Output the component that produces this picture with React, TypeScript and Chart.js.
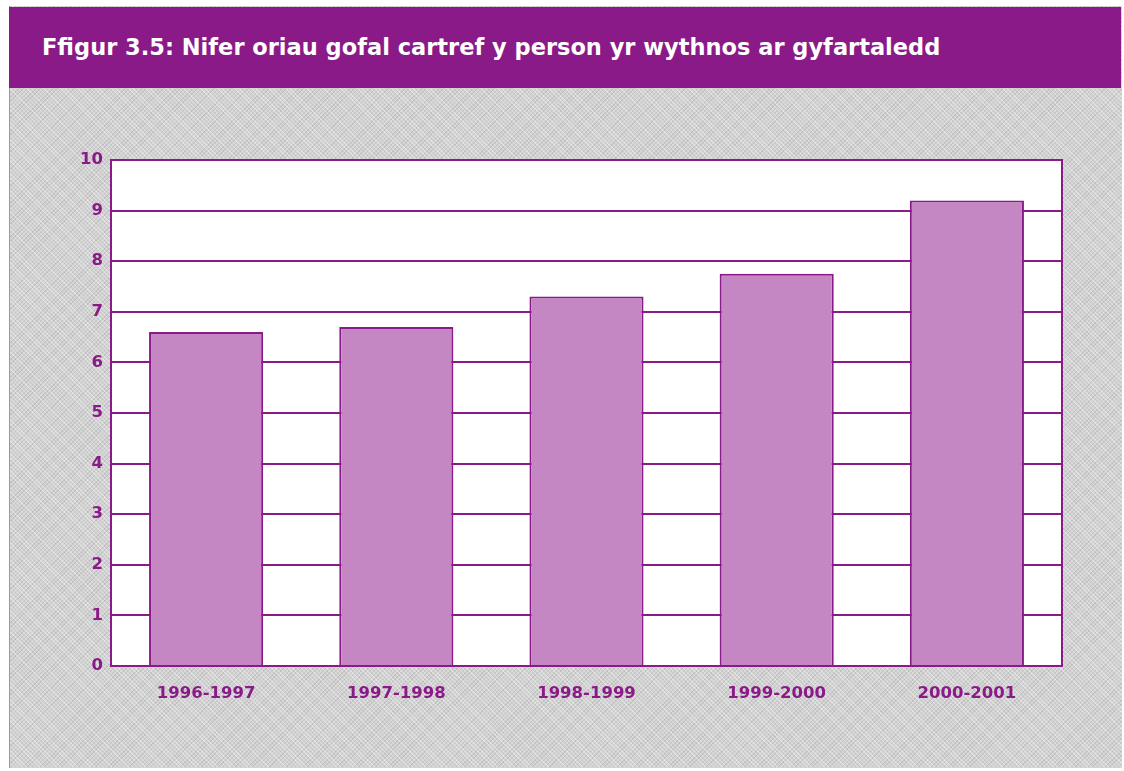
import React, { useEffect, useRef } from "react";
import { Chart, registerables } from "chart.js";

Chart.register(...registerables);

const TITLE = "Ffigur 3.5: Nifer oriau gofal cartref y person yr wythnos ar gyfartaledd";
const categories = ["1996-1997", "1997-1998", "1998-1999", "1999-2000", "2000-2001"];
const hours = [6.6, 6.7, 7.3, 7.75, 9.2];
const yTicks = [0, 1, 2, 3, 4, 5, 6, 7, 8, 9, 10];

const PURPLE = "#8a1a88";
const BAR_FILL = "#c587c3";

const chartAreaBg = {
  id: "chartAreaBg",
  beforeDraw(chart: any) {
    const { ctx, chartArea } = chart;
    ctx.save();
    ctx.fillStyle = "#ffffff";
    ctx.fillRect(chartArea.left, chartArea.top, chartArea.right - chartArea.left, chartArea.bottom - chartArea.top);
    ctx.restore();
  },
  afterDraw(chart: any) {
    const { ctx, chartArea } = chart;
    ctx.save();
    ctx.strokeStyle = PURPLE;
    ctx.lineWidth = 2;
    ctx.strokeRect(chartArea.left, chartArea.top, chartArea.right - chartArea.left, chartArea.bottom - chartArea.top);
    ctx.restore();
  },
};

export default function App() {
  const ref = useRef<HTMLCanvasElement>(null);
  useEffect(() => {
    if (!ref.current) return;
    const chart = new Chart(ref.current, {
      type: "bar",
      data: {
        labels: categories,
        datasets: [
          {
            data: hours,
            backgroundColor: BAR_FILL,
            borderColor: PURPLE,
            borderWidth: 2,
            categoryPercentage: 0.6,
            barPercentage: 1,
          },
        ],
      },
      options: {
        animation: false,
        responsive: false,
        maintainAspectRatio: false,
        layout: { padding: { left: 60, right: 62, top: 160, bottom: 65 } },
        plugins: { legend: { display: false }, tooltip: { enabled: false }, title: { display: false } },
        scales: {
          x: {
            grid: { display: false },
            border: { display: false },
            ticks: {
              color: PURPLE,
              font: { family: "DejaVu Sans", weight: "bold", size: 16.5 },
              padding: 10,
            },
            afterFit(scale: any) {
              scale.height = 40;
            },
          },
          y: {
            min: 0,
            max: 10,
            afterBuildTicks(scale: any) {
              scale.ticks = yTicks.map((v) => ({ value: v }));
            },
            grid: { color: PURPLE, lineWidth: 2, drawTicks: false },
            border: { display: false },
            ticks: {
              color: PURPLE,
              font: { family: "DejaVu Sans", weight: "bold", size: 16.5 },
              padding: 8,
            },
            afterFit(scale: any) {
              scale.width = 51;
            },
          },
        },
      },
      plugins: [chartAreaBg],
    });
    return () => chart.destroy();
  }, []);

  return (
    <div style={{ position: "fixed", left: 0, top: 0, width: 1124, height: 771, background: "#ffffff" }}>
      <div
        style={{
          position: "absolute",
          left: 9,
          top: 6,
          width: 1112,
          height: 762,
          background:
            "repeating-linear-gradient(45deg, rgba(255,255,255,0.35) 0px, rgba(255,255,255,0.35) 1px, transparent 1px, transparent 3px), repeating-linear-gradient(-45deg, rgba(150,150,150,0.3) 0px, rgba(150,150,150,0.3) 1px, transparent 1px, transparent 3px), #d2d2d2",
          borderLeft: "1px solid #9a9a9a",
        }}
      />
      <div
        style={{
          position: "absolute",
          left: 9,
          top: 7,
          width: 1112,
          height: 81,
          background: PURPLE,
        }}
      >
        <div
          style={{
            position: "absolute",
            left: 33,
            top: 25,
            color: "#ffffff",
            fontFamily: "'DejaVu Sans', sans-serif",
            fontWeight: "bold",
            fontSize: 22.5,
            whiteSpace: "nowrap",
            lineHeight: "30px",
          }}
        >
          {TITLE}
        </div>
      </div>
      <canvas ref={ref} width={1124} height={771} style={{ position: "absolute", left: 0, top: 0, width: 1124, height: 771 }} />
    </div>
  );
}
